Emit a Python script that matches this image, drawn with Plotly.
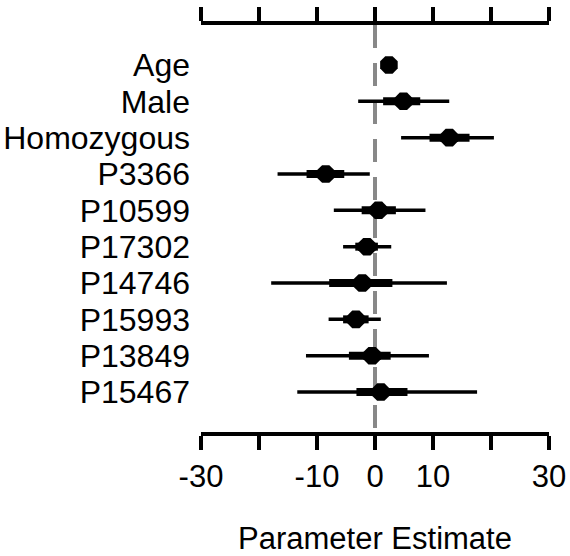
import plotly.graph_objects as go

labels = ["Age", "Male", "Homozygous", "P3366", "P10599", "P17302",
          "P14746", "P15993", "P13849", "P15467"]
estimate = [2.4, 4.9, 12.8, -8.5, 0.6, -1.4, -2.2, -3.3, -0.5, 1.0]
outer_lo = [1.9, -2.9, 4.5, -16.8, -7.1, -5.5, -17.9, -8.0, -11.9, -13.4]
outer_hi = [2.9, 12.8, 20.5, -0.9, 8.7, 2.8, 12.4, 1.0, 9.3, 17.6]
inner_lo = [2.1, 1.4, 9.4, -11.8, -2.3, -3.4, -7.9, -5.5, -4.5, -3.2]
inner_hi = [2.7, 7.8, 16.3, -5.3, 3.6, 0.5, 3.0, -1.1, 2.7, 5.6]
tick_vals = [-30, -20, -10, 0, 10, 20, 30]
tick_text = ["-30", "", "-10", "0", "10", "", "30"]

rows = list(range(len(labels)))

def seg(lo, hi):
    xs, ys = [], []
    for r, a, b in zip(rows, lo, hi):
        xs += [a, b, None]
        ys += [r, r, None]
    return xs, ys

fig = go.Figure()
ox, oy = seg(outer_lo, outer_hi)
fig.add_trace(go.Scatter(x=ox, y=oy, mode="lines",
                         line=dict(color="black", width=3.5), hoverinfo="skip"))
ix, iy = seg(inner_lo, inner_hi)
fig.add_trace(go.Scatter(x=ix, y=iy, mode="lines",
                         line=dict(color="black", width=8), hoverinfo="skip"))
fig.add_trace(go.Scatter(x=estimate, y=rows, mode="markers",
                         marker=dict(color="black", size=19, symbol="octagon")))
# top axis dummy trace
fig.add_trace(go.Scatter(x=[0], y=[0], xaxis="x2", mode="markers",
                         marker=dict(opacity=0), hoverinfo="skip"))

fig.add_shape(type="line", x0=0, x1=0, y0=-1.1, y1=10.1, xref="x", yref="y",
              line=dict(color="#888888", width=4, dash="23px,15px"), layer="below")

font_family = "Liberation Sans, Arial, sans-serif"
fig.update_layout(
    width=570, height=556,
    margin=dict(l=201, r=21, t=25, b=124),
    paper_bgcolor="white", plot_bgcolor="white",
    showlegend=False,
    font=dict(family=font_family, size=31, color="black"),
    xaxis=dict(range=[-30, 30], tickvals=tick_vals, ticktext=tick_text,
               showline=True, linecolor="black", linewidth=4,
               ticks="outside", ticklen=14, tickwidth=4, tickcolor="black",
               showgrid=False, zeroline=False, automargin=False,
               tickfont=dict(size=31),
               title=dict(text="Parameter Estimate", font=dict(size=31), standoff=36)),
    xaxis2=dict(range=[-30, 30], tickvals=tick_vals, overlaying="x", side="top",
                showline=True, linecolor="black", linewidth=4,
                ticks="outside", ticklen=14, tickwidth=4, tickcolor="black",
                showticklabels=False, showgrid=False, zeroline=False,
                automargin=False),
    yaxis=dict(range=[10.1, -1.1], tickvals=rows, ticktext=labels,
               showline=False, ticks="", showgrid=False, zeroline=False,
               automargin=False,
               tickfont=dict(size=32), ticklabelstandoff=10),
)

fig.write_html("out.html")
